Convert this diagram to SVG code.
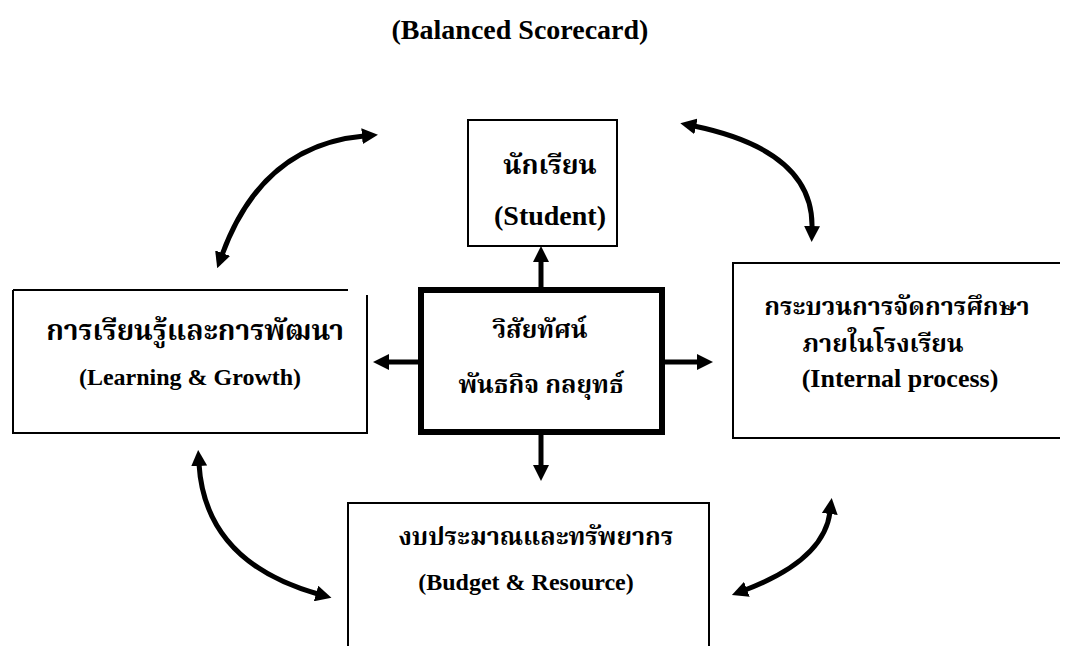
<svg xmlns="http://www.w3.org/2000/svg" width="1065" height="646" viewBox="0 0 1065 646">
  <style>
    text { font-family: "Liberation Serif", "Noto Serif Thai", "Noto Sans Thai", serif; font-weight: bold; fill: #000; text-anchor: middle; }
    .t { font-size: 28px; }
    .en { font-size: 24px; }
    .th { font-size: 25px; }
    .box { fill: #fff; stroke: #000; stroke-width: 2; }
    .edge { fill: none; stroke: #000; stroke-width: 2; }
    .conn { fill: none; stroke: #000; stroke-width: 5; marker-end: url(#ah); }
    .curve { fill: none; stroke: #000; stroke-width: 5; marker-start: url(#ah); marker-end: url(#ah); }
  </style>
  <defs>
    <marker id="ah" viewBox="0 0 16 16" refX="2" refY="8" markerWidth="16" markerHeight="16" markerUnits="userSpaceOnUse" orient="auto-start-reverse">
      <path d="M0,0 L16,8 L0,16 z" fill="#000"/>
    </marker>
  </defs>
  <rect width="1065" height="646" fill="#fff"/>

  <g id="title">
    <text class="t" x="520" y="39">(Balanced Scorecard)</text>
  </g>

  <g id="student">
    <rect class="box" x="468" y="120" width="149" height="126"/>
    <text class="th" x="550" y="174" style="font-size:27px">นักเรียน</text>
    <text class="en" x="550" y="225" style="font-size:28px">(Student)</text>
  </g>

  <g id="learning">
    <path class="edge" d="M13,290 H348 M367,295 V433 H13 V290"/>
    <text class="th" x="195" y="340" style="font-size:28px">การเรียนรู้และการพัฒนา</text>
    <text class="en" x="190" y="385">(Learning &amp; Growth)</text>
  </g>

  <g id="internal">
    <path class="edge" d="M1060,263 H733 V438 H1060"/>
    <text class="th" x="897" y="315">กระบวนการจัดการศึกษา</text>
    <text class="th" x="883" y="352">ภายในโรงเรียน</text>
    <text class="en" x="900" y="387" style="font-size:26px">(Internal process)</text>
  </g>

  <g id="budget">
    <path class="edge" d="M348,646 V503 H709 V646"/>
    <text class="th" x="536" y="545">งบประมาณและทรัพยากร</text>
    <text class="en" x="526" y="590">(Budget &amp; Resource)</text>
  </g>

  <g id="connectors">
    <line class="conn" x1="541" y1="290" x2="541" y2="260"/>
    <line class="conn" x1="421" y1="362" x2="387" y2="362"/>
    <line class="conn" x1="662" y1="362" x2="699" y2="362"/>
    <line class="conn" x1="541" y1="432" x2="541" y2="467"/>
    <path class="curve" d="M364,136 Q262,145 222,255"/>
    <path class="curve" d="M694,126 Q814,151 812,228"/>
    <path class="curve" d="M199,464 Q205,562 318,594"/>
    <path class="curve" d="M830,512 Q824,560 745,590"/>
  </g>

  <g id="center">
    <rect x="421" y="290" width="241" height="142" fill="#fff" stroke="#000" stroke-width="6"/>
    <text class="th" x="540" y="338">วิสัยทัศน์</text>
    <text class="th" x="541" y="393">พันธกิจ กลยุทธ์</text>
  </g>
</svg>
